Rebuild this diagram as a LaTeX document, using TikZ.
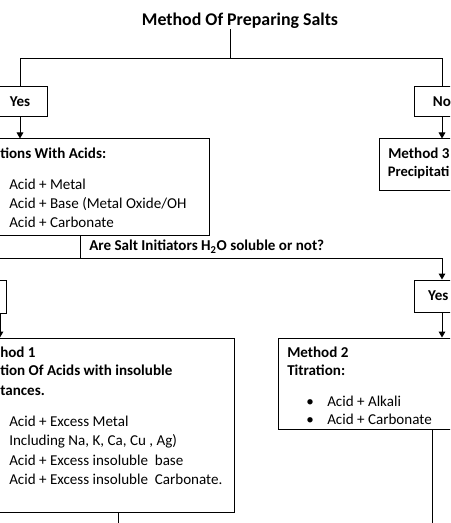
\documentclass[tikz,border=0pt]{standalone}
\usepackage{fontspec}
\setmainfont{Carlito}
\usetikzlibrary{arrows.meta, positioning}

\begin{document}
\begin{tikzpicture}[x=0.75pt, y=-0.75pt,
  box/.style={draw, line width=0.75pt, inner sep=0pt, font=\fontsize{11.3}{13}\selectfont\bfseries},
  lbl/.style={anchor=base west, inner sep=0pt, font=\fontsize{11.3}{13}\selectfont},
  hd/.style={lbl, font=\fontsize{11.3}{13}\selectfont\bfseries},
  dot/.style={anchor=base, inner sep=0pt, font=\fontsize{11.3}{13}\selectfont},
  link/.style={line width=0.75pt},
  arr/.style={link, -{Triangle[width=5pt, length=4.5pt]}}
]
  \useasboundingbox (0,0) rectangle (450,523);
  \clip (0,0) rectangle (450,523);

  % top level
  \node[hd, anchor=base, font=\fontsize{13.4}{16}\selectfont\bfseries] (title) at (240,26) {Method Of Preparing Salts};
  \coordinate (split) at (230,59);
  \node[box, minimum width=40.5pt, minimum height=22.5pt] (yesA) at (20,102) {Yes};
  \node[box, minimum width=42pt, minimum height=22.5pt] (noA) at (442,102) {No};

  % second level boxes
  \node[box, minimum width=164.25pt, minimum height=72.75pt] (acids) at (99.5,187.5) {};
  \node[box, minimum width=105.75pt, minimum height=39pt] (meth3) at (449.5,165) {};
  \coordinate (ask) at (80,259);
  \node[box, minimum width=42pt, minimum height=24.75pt] (noB) at (-22,297) {};
  \node[box, minimum width=42pt, minimum height=24pt] (yesB) at (442,296) {Yes\hspace*{5.5pt}};
  \node[box, minimum width=183pt, minimum height=130.5pt] (meth1) at (112,425) {};
  \node[box, minimum width=181.5pt, minimum height=68.25pt] (meth2) at (399,383.5) {};
  \coordinate (edge) at (0,320);
  \coordinate (out1) at (118,530);
  \coordinate (out2) at (432,530);

  % connectors
  \draw[link] (title.south -| split) -- (split);
  \draw[link] (split) -| (yesA.north);
  \draw[link] (split) -| (noA.north);
  \draw[arr] (yesA.south) -- (acids.north -| yesA.south);
  \draw[arr] (noA.south) -- (meth3.north -| noA.south);
  \draw[link] (acids.south -| ask) -- (ask);
  \draw[arr] (ask) -| (noB.north);
  \draw[arr] (ask) -| (yesB.north);
  \draw[arr] (noB.south -| edge) -- (meth1.north -| edge);
  \draw[arr] (yesB.south) -- (meth2.north -| yesB.south);
  \draw[link] (meth1.south -| out1) -- (out1);
  \draw[link] (meth2.south -| out2) -- (out2);

  % texts
  \node[hd] (acidsHd) at (0,159) {tions With Acids:};
  \node[lbl] (acidsA) at (9,190) {Acid + Metal};
  \node[lbl] (acidsB) at (9,208.5) {Acid + Base (Metal Oxide/OH};
  \node[lbl] (acidsC) at (9,227.5) {Acid + Carbonate};
  \node[hd] (meth3Hd) at (388,159) {Method 3};
  \node[hd, font=\fontsize{10.9}{13}\selectfont\bfseries] (meth3Sub) at (387.5,177) {Precipitati};
  \node[hd] (askTxt) at (89,251) {Are Salt Initiators H\textsubscript{2}O soluble or not?};
  \node[hd] (meth1Hd) at (0,357) {hod 1};
  \node[hd] (meth1SubA) at (0,375) {tion Of Acids with insoluble};
  \node[hd] (meth1SubB) at (0,395) {tances.};
  \node[lbl] (meth1A) at (9,426) {Acid + Excess Metal};
  \node[lbl] (meth1B) at (9,445) {Including Na, K, Ca, Cu , Ag)};
  \node[lbl] (meth1C) at (9,465) {Acid + Excess insoluble\ \ base};
  \node[lbl] (meth1D) at (9,484) {Acid + Excess insoluble\ \ Carbonate.};
  \node[hd] (meth2Hd) at (287,357) {Method 2};
  \node[hd] (meth2Sub) at (287,375) {Titration:};
  \node[dot] (dotA) at (310,406) {\textbullet};
  \node[lbl] (meth2A) at (327,406) {Acid + Alkali};
  \node[dot] (dotB) at (310,424) {\textbullet};
  \node[lbl] (meth2B) at (327,424) {Acid + Carbonate};
\end{tikzpicture}
\end{document}
